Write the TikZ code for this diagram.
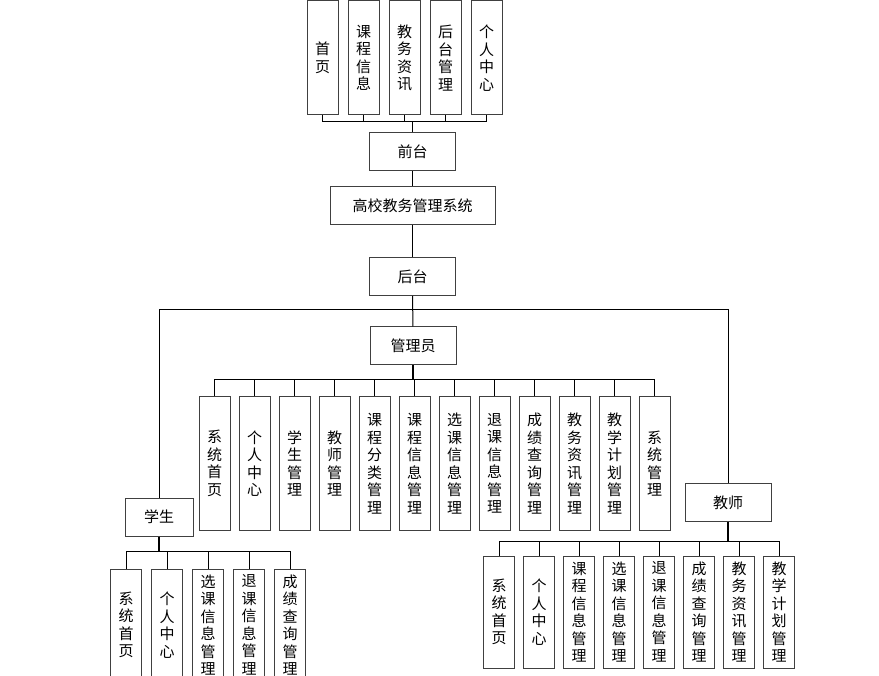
\documentclass[tikz,border=0pt]{standalone}
\usepackage{fontspec}
\setmainfont{Noto Sans CJK SC}
\usetikzlibrary{positioning}

\begin{document}
\begin{tikzpicture}[x=1pt, y=-1pt]
    % Define styles
    \tikzstyle{box} = [rectangle, draw=black!75, line width=1pt, fill=white, text centered, minimum width=86pt, minimum height=38pt, inner sep=0pt, font=\fontsize{15pt}{17.5pt}\selectfont]
    \tikzstyle{vbox} = [box, align=center, minimum width=31pt]
    \tikzstyle{line} = [line width=1pt]
    \tikzstyle{trunk} = [line width=1.8pt]

    \useasboundingbox (0,0) rectangle (879,676);

    % Components
    \node [box] (qiantai) at (412.5,152) {前台};
    \node [box, minimum width=165pt] (xitong) at (412.5,206) {高校教务管理系统};
    \node [box] (houtai) at (412.5,276.5) {后台};
    \node [box] (guanliyuan) at (413,346) {管理员};
    \node [box, minimum width=68pt] (xuesheng) at (159,517) {学生};
    \node [box] (jiaoshi) at (728,502.5) {教师};

    \foreach \txt [count=\i] in {{首\\页}, {课\\程\\信\\息}, {教\\务\\资\\讯}, {后\\台\\管\\理}, {个\\人\\中\\心}}
        \node [vbox, minimum height=114pt] (front\i) at ({281.5+41*\i},58) {\txt};

    \foreach \txt [count=\i] in {{系\\统\\首\\页}, {个\\人\\中\\心}, {学\\生\\管\\理}, {教\\师\\管\\理}, {课\\程\\分\\类\\管\\理}, {课\\程\\信\\息\\管\\理}, {选\\课\\信\\息\\管\\理}, {退\\课\\信\\息\\管\\理}, {成\\绩\\查\\询\\管\\理}, {教\\务\\资\\讯\\管\\理}, {教\\学\\计\\划\\管\\理}, {系\\统\\管\\理}}
        \node [vbox, minimum height=133pt] (adm\i) at ({174.5+40*\i},463.5) {\txt};

    \foreach \txt [count=\i] in {{系\\统\\首\\页}, {个\\人\\中\\心}, {选\\课\\信\\息\\管\\理}, {退\\课\\信\\息\\管\\理}, {成\\绩\\查\\询\\管\\理}}
        \node [vbox, minimum height=112pt] (stu\i) at ({85+41*\i},625) {\txt};

    \foreach \txt [count=\i] in {{系\\统\\首\\页}, {个\\人\\中\\心}, {课\\程\\信\\息\\管\\理}, {选\\课\\信\\息\\管\\理}, {退\\课\\信\\息\\管\\理}, {成\\绩\\查\\询\\管\\理}, {教\\务\\资\\讯\\管\\理}, {教\\学\\计\\划\\管\\理}}
        \node [vbox, minimum height=112pt] (tea\i) at ({459+40*\i},612) {\txt};

    % Connections
    \draw [line] (qiantai) -- (xitong);
    \draw [line] (xitong) -- (houtai);
    \draw [line] (houtai) -- (guanliyuan);
    \draw [line] (houtai.south) -- ++(0,14) -| (xuesheng.north);
    \draw [line] (houtai.south) -- ++(0,14) -| (jiaoshi.north);

    \draw [trunk] (qiantai.north) -- ++(0,-11);
    \foreach \i in {1,...,5}
        \draw [line] (qiantai.north) ++(0,-11) -| (front\i.south);

    \draw [trunk] (guanliyuan.south) -- ++(0,14);
    \foreach \i in {1,...,12}
        \draw [line] (guanliyuan.south) ++(0,14) -| (adm\i.north);

    \draw [trunk] (xuesheng.south) -- ++(0,15);
    \foreach \i in {1,...,5}
        \draw [line] (xuesheng.south) ++(0,15) -| (stu\i.north);

    \draw [trunk] (jiaoshi.south) -- ++(0,19);
    \foreach \i in {1,...,8}
        \draw [line] (jiaoshi.south) ++(0,19) -| (tea\i.north);
\end{tikzpicture}
\end{document}
